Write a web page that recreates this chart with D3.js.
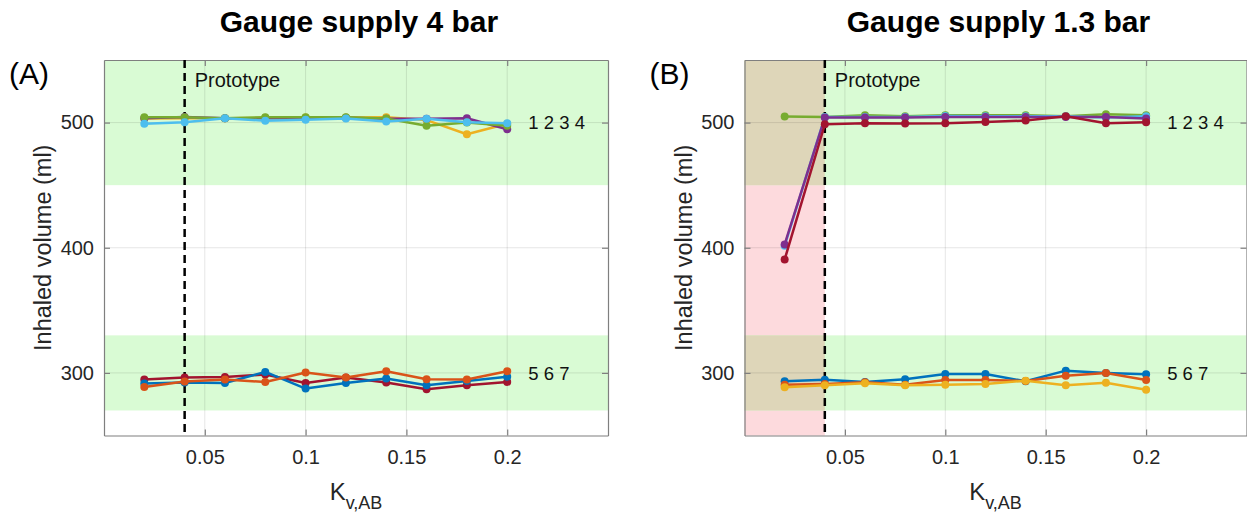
<!DOCTYPE html>
<html>
<head>
<meta charset="utf-8">
<script src="https://cdn.jsdelivr.net/npm/d3@7"></script>
<style>
  html, body { margin: 0; padding: 0; background: #fff; }
  svg text { font-family: "Liberation Sans", Arial, Helvetica, sans-serif; }
</style>
</head>
<body>
<svg id="chart" width="1247" height="515"></svg>
<script>
// ---------- data ----------
const kv = [0.02, 0.04, 0.06, 0.08, 0.10, 0.12, 0.14, 0.16, 0.18, 0.20];
const xTicks = [0.05, 0.1, 0.15, 0.2];
const yTicks = [300, 400, 500];
const prototypeKv = 0.04;
const greenBands = [[450, 550], [270, 330]];
const titles = ["Gauge supply 4 bar", "Gauge supply 1.3 bar"];
const panelLetters = ["(A)", "(B)"];
const groupLabels = ["1 2 3 4", "5 6 7"];
const groupLabelValues = [500, 300];

// panel A (4 bar)
const a_yellow   = [503.2, 503.5, 503.5, 503.8, 504.0, 504.0, 504.3, 502.0, 490.7, 499.0];
const a_purple   = [503.5, 504.5, 503.5, 503.5, 503.5, 503.8, 503.0, 503.0, 503.5, 494.7];
const a_green    = [504.3, 504.3, 503.5, 504.3, 504.3, 504.3, 503.2, 497.4, 500.0, 497.5];
const a_ltblue   = [499.0, 500.3, 503.5, 501.4, 502.2, 503.2, 500.8, 503.0, 500.3, 499.5];
const a_darkred  = [294.7, 296.3, 296.8, 298.7, 292.0, 296.3, 292.3, 287.0, 290.2, 292.8];
const a_blue     = [291.5, 292.3, 292.0, 300.8, 287.5, 292.0, 295.5, 290.2, 293.6, 297.0];
const a_orange   = [288.8, 293.1, 294.7, 292.8, 300.3, 296.3, 301.4, 295.0, 294.7, 301.4];

// panel B (1.3 bar)
const b_green    = [504.8, 504.5, 505.8, 505.0, 505.8, 505.8, 505.8, 505.0, 506.6, 505.8];
const b_ltblue   = [401.5, 504.5, 504.5, 504.5, 505.3, 505.0, 505.0, 505.0, 504.0, 505.0];
const b_purple   = [402.6, 504.0, 504.0, 504.0, 504.5, 504.5, 504.5, 504.5, 504.5, 503.2];
const b_darkred  = [390.6, 498.6, 499.4, 499.2, 499.4, 500.5, 501.6, 505.0, 499.4, 500.2];
const b_blue     = [293.3, 294.6, 292.8, 294.9, 299.2, 299.2, 293.3, 301.8, 300.0, 298.9];
const b_orange   = [290.6, 291.2, 292.5, 290.6, 294.4, 294.4, 293.6, 297.8, 300.0, 294.4];
const b_yellow   = [288.5, 290.1, 291.7, 290.1, 290.6, 291.2, 293.8, 290.1, 292.2, 286.6];

const C = {
  blue: "#0072BD", orange: "#D95319", yellow: "#EDB120", purple: "#7E2F8E",
  green: "#77AC30", ltblue: "#4DBEEE", darkred: "#A2142F"
};

const panels = [
  { left: 104, right: 608, redZone: false,
    series: [
      { v: a_yellow, c: C.yellow }, { v: a_purple, c: C.purple },
      { v: a_green, c: C.green }, { v: a_ltblue, c: C.ltblue },
      { v: a_darkred, c: C.darkred }, { v: a_blue, c: C.blue },
      { v: a_orange, c: C.orange }
    ] },
  { left: 744.5, right: 1246.5, redZone: true,
    series: [
      { v: b_green, c: C.green }, { v: b_ltblue, c: C.ltblue },
      { v: b_purple, c: C.purple }, { v: b_darkred, c: C.darkred },
      { v: b_blue, c: C.blue }, { v: b_orange, c: C.orange },
      { v: b_yellow, c: C.yellow }
    ] }
];

const plotTop = 60, plotBottom = 435.5;
const svg = d3.select("#chart");

panels.forEach((p, i) => {
  const x = d3.scaleLinear().domain([0, 0.25]).range([p.left, p.right]);
  const y = d3.scaleLinear().domain([250, 550]).range([plotBottom, plotTop]);
  const g = svg.append("g");

  // background bands
  if (p.redZone) {
    g.append("rect").attr("x", x(0)).attr("width", x(prototypeKv) - x(0))
      .attr("y", y(550)).attr("height", y(250) - y(550)).attr("fill", "#fddadd");
  }
  greenBands.forEach(b => {
    g.append("rect").attr("x", x(0)).attr("width", x(0.25) - x(0))
      .attr("y", y(b[1])).attr("height", y(b[0]) - y(b[1])).attr("fill", "#d9fbd4");
    if (p.redZone) {
      g.append("rect").attr("x", x(0)).attr("width", x(prototypeKv) - x(0))
        .attr("y", y(b[1])).attr("height", y(b[0]) - y(b[1])).attr("fill", "#ded6b9");
    }
  });

  // grid
  g.selectAll(".vg").data(xTicks).join("line")
    .attr("x1", d => x(d)).attr("x2", d => x(d)).attr("y1", plotTop).attr("y2", plotBottom)
    .attr("stroke", "#000").attr("stroke-opacity", 0.1).attr("stroke-width", 1);
  g.selectAll(".hg").data(yTicks).join("line")
    .attr("y1", d => y(d)).attr("y2", d => y(d)).attr("x1", p.left).attr("x2", p.right)
    .attr("stroke", "#000").attr("stroke-opacity", 0.1).attr("stroke-width", 1);

  // axes (ticks inside)
  const axB = d3.axisBottom(x).tickValues(xTicks).tickSizeInner(-6).tickSizeOuter(0).tickPadding(14).tickFormat(d3.format("~g"));
  const axL = d3.axisLeft(y).tickValues(yTicks).tickSizeInner(-6).tickSizeOuter(0).tickPadding(10);
  const axT = d3.axisTop(x).tickValues(xTicks).tickSizeInner(-6).tickSizeOuter(0).tickFormat("");
  const axR = d3.axisRight(y).tickValues(yTicks).tickSizeInner(-6).tickSizeOuter(0).tickFormat("");
  [[axB, `translate(0,${plotBottom})`], [axL, `translate(${p.left},0)`],
   [axT, `translate(0,${plotTop})`], [axR, `translate(${p.right},0)`]].forEach(([ax, t]) => {
    const a = g.append("g").attr("transform", t).call(ax);
    a.select(".domain").attr("stroke", "#7f7f7f").attr("stroke-width", 1.2);
    a.selectAll(".tick line").attr("stroke", "#7f7f7f").attr("stroke-width", 1.2);
    a.selectAll(".tick text").attr("font-size", 20).attr("fill", "#262626")
      .style("font-family", '"Liberation Sans", Arial, sans-serif');
  });

  // prototype line
  g.append("line").attr("x1", x(prototypeKv)).attr("x2", x(prototypeKv))
    .attr("y1", plotTop).attr("y2", plotBottom)
    .attr("stroke", "#000").attr("stroke-width", 2.5).attr("stroke-dasharray", "8,5");
  g.append("text").attr("x", x(prototypeKv) + 10).attr("y", plotTop + 27)
    .attr("font-size", 20).attr("fill", "#111").text("Prototype");

  // series
  const line = d3.line().x((d, j) => x(kv[j])).y(d => y(d));
  p.series.forEach(s => {
    g.append("path").datum(s.v).attr("d", line).attr("fill", "none")
      .attr("stroke", s.c).attr("stroke-width", 2.5).attr("stroke-linejoin", "round");
    g.selectAll(null).data(s.v).join("circle")
      .attr("cx", (d, j) => x(kv[j])).attr("cy", d => y(d)).attr("r", 4)
      .attr("fill", s.c);
  });

  // group labels
  groupLabels.forEach((t, k) => {
    g.append("text").attr("x", x(0.21) + 1).attr("y", y(groupLabelValues[k]))
      .attr("dy", "0.36em").attr("font-size", 18.5).attr("fill", "#111")
      .text(t);
  });

  // titles
  const cx = (p.left + p.right) / 2;
  g.append("text").attr("x", cx + 3).attr("y", 32).attr("text-anchor", "middle")
    .attr("font-size", 30).attr("font-weight", "bold").attr("fill", "#000").text(titles[i]);
  g.append("text").attr("x", p.left - 95).attr("y", 84)
    .attr("font-size", 30).attr("fill", "#000").text(panelLetters[i]);

  // y label
  g.append("text").attr("transform", `translate(${p.left - 53},${(plotTop + plotBottom) / 2}) rotate(-90)`)
    .attr("text-anchor", "middle").attr("font-size", 23.5).attr("fill", "#262626")
    .text("Inhaled volume (ml)");

  // x label
  const xl = g.append("text").attr("x", cx).attr("y", 500).attr("text-anchor", "middle")
    .attr("fill", "#262626");
  xl.append("tspan").attr("font-size", 24).text("K");
  xl.append("tspan").attr("font-size", 18).attr("dy", 9).text("v,AB");
});
</script>
</body>
</html>
